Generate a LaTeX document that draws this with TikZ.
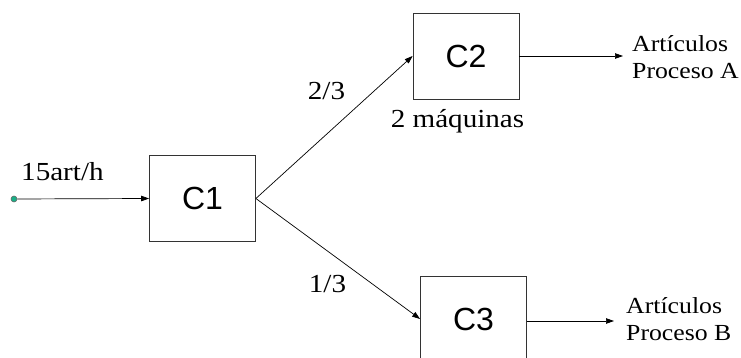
\documentclass[tikz,border=0pt]{standalone}
\usepackage{fontspec}
\setmainfont{Liberation Serif}[FakeStretch=1.12]
\newfontfamily\boxfont{Liberation Sans}
\usetikzlibrary{arrows.meta}
\definecolor{dotfill}{RGB}{25,175,135}
\begin{document}
\begin{tikzpicture}[x=1pt,y=-1pt,
  stage/.style={draw=black!80, line width=0.8pt, minimum width=106pt, minimum height=86pt, inner sep=0pt, font=\boxfont\fontsize{32}{32}\selectfont},
  lbl/.style={inner sep=0pt, font=\fontsize{26}{28}\selectfont},
  outlbl/.style={inner sep=0pt, anchor=west, align=left, font=\fontsize{23}{27}\selectfont},
  flow/.style={line width=0.7pt, -{Triangle[length=8pt,width=5.5pt]}}]
\useasboundingbox (0,0) rectangle (741,358);
\clip (0,0) rectangle (741,358);
\node[stage] (c1) at (202.5,198.5) {C1};
\node[stage] (c2) at (466,56) {C2};
\node[stage] (c3) at (473.5,319) {C3};
\node[circle, draw=black!60, fill=dotfill, minimum size=6pt, inner sep=0pt, line width=0.6pt] (in) at (14,199) {};
\coordinate (outA) at (623,56);
\coordinate (outB) at (614,321);
\draw[flow] (in) -- (c1.west);
\draw[flow] (c1.east) -- (c2.west);
\draw[flow] (c1.east) -- (c3.west);
\draw[flow] (c2.east) -- (outA);
\draw[flow] (c3.east |- outB) -- (outB);
\node[lbl, anchor=west] (rate) at (21,172) {15art/h};
\node[lbl] (p23) at (326.5,91) {2/3};
\node[lbl] (p13) at (327.5,284) {1/3};
\node[lbl, anchor=base] (maq) at (457.5,128) {2 máquinas};
\node[outlbl] (ta) at (632,57) {Artículos\\Proceso A};
\node[outlbl] (tb) at (626,319) {Artículos\\Proceso B};
\end{tikzpicture}
\end{document}
